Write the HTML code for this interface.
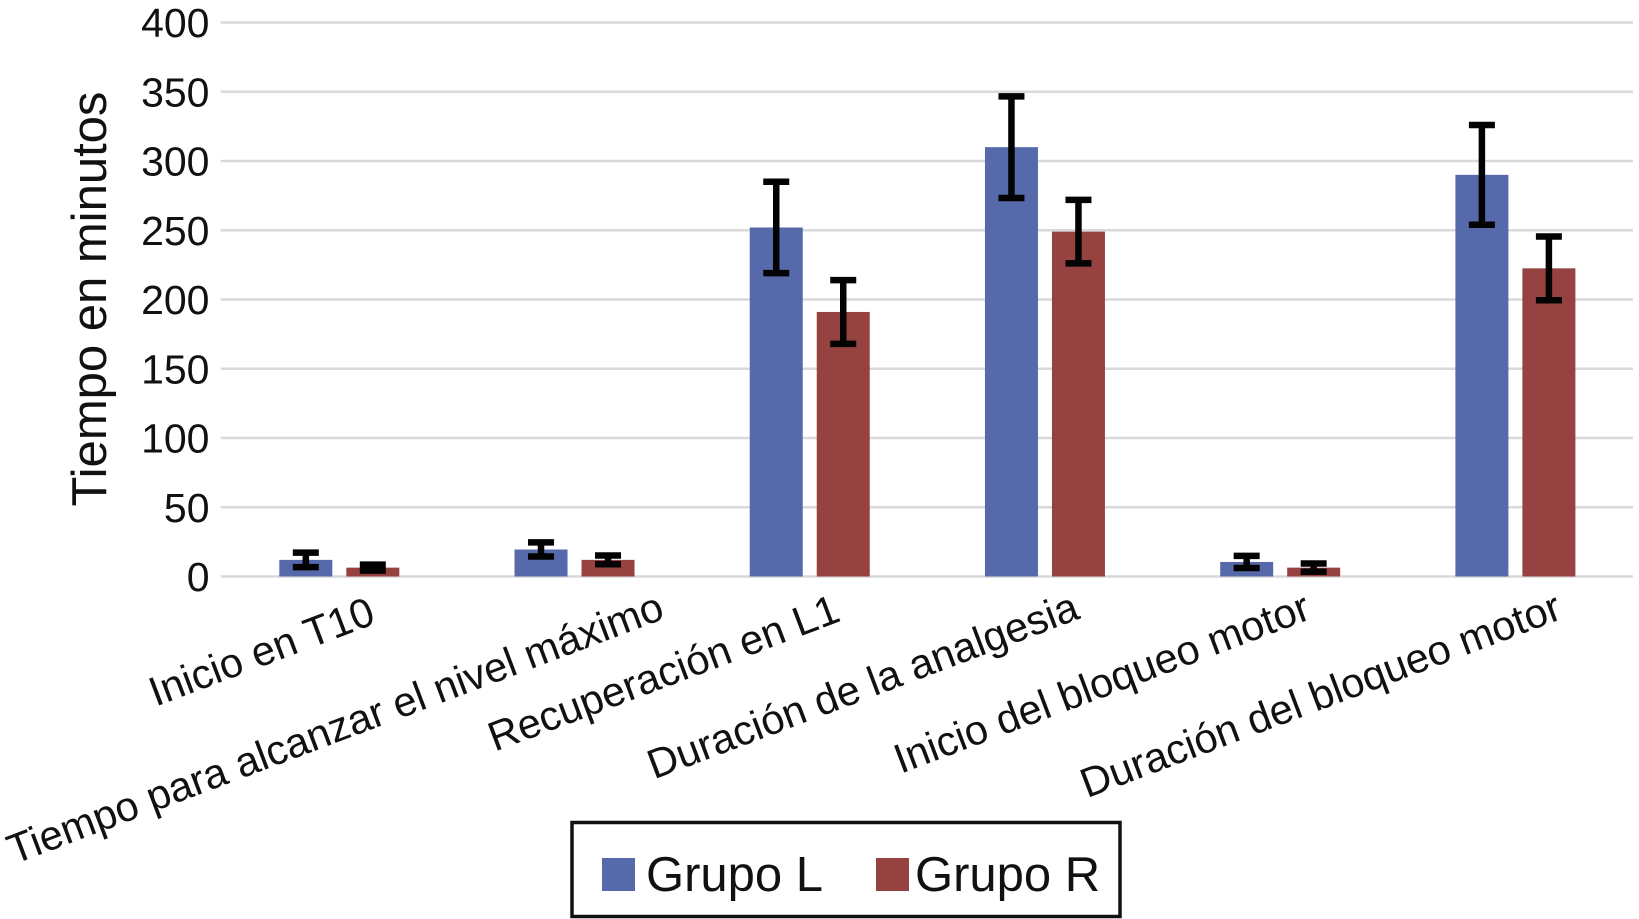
<!DOCTYPE html>
<html lang="es">
<head>
<meta charset="utf-8">
<title>Tiempo en minutos por grupo</title>
<style>
  html, body { margin: 0; padding: 0; background: #fff; }
  body { width: 1639px; height: 919px; overflow: hidden; }
  svg { display: block; font-family: "Liberation Sans", Arial, sans-serif; fill: #111; }
</style>
</head>
<body>
<svg id="chart" width="1639" height="919" viewBox="0 0 1639 919" xmlns="http://www.w3.org/2000/svg">
  <g id="grid"></g>
  <g id="yticks"></g>
  <text transform="translate(106 299) rotate(-90)" text-anchor="middle" font-size="49">Tiempo en minutos</text>
  <g id="bars"></g>
  <g id="errors"></g>
  <g id="xticks"></g>
  <g>
    <rect x="572" y="822.5" width="548" height="94" fill="#fff" stroke="#111" stroke-width="3.5"/>
    <rect x="602" y="858" width="33" height="33" fill="#566aab"/>
    <text x="646" y="891" font-size="49">Grupo L</text>
    <rect x="876" y="858" width="33" height="33" fill="#954240"/>
    <text x="915" y="891" font-size="49">Grupo R</text>
  </g>
</svg>
<script>
const categories = ["Inicio en T10", "Tiempo para alcanzar el nivel máximo", "Recuperación en L1", "Duración de la analgesia", "Inicio del bloqueo motor", "Duración del bloqueo motor"];
const grupoL = [12, 19.5, 252, 310, 10.5, 290];
const grupoR = [6.4, 12, 191, 249, 6.4, 222.5];
const errorL = [5.2, 5.1, 33, 36.7, 4.4, 36];
const errorR = [2.2, 3.2, 23, 22.9, 3, 23];
const yTickLabels = [0, 50, 100, 150, 200, 250, 300, 350, 400];

const NS = "http://www.w3.org/2000/svg";
const plot = { left: 221.7, right: 1633, zeroY: 576.5, topY: 22.5, max: 400 };
const BAR_W = 53, BAR_GAP = 14;

function yScale(v) { return plot.zeroY - (v / plot.max) * (plot.zeroY - plot.topY); }
function xCenter(i) { return plot.left + (i + 0.5) * (plot.right - plot.left) / categories.length; }
function make(tag, attrs, parent) {
  const el = document.createElementNS(NS, tag);
  for (const k in attrs) el.setAttribute(k, attrs[k]);
  parent.appendChild(el);
  return el;
}

const gridG = document.getElementById("grid");
const ytickG = document.getElementById("yticks");
yTickLabels.forEach(function (t) {
  const line = make("line", { x1: plot.left - 1, x2: plot.right, y1: yScale(t), y2: yScale(t), stroke: "#d9d9d9", "stroke-width": 2.4 }, gridG);
  
  
  const label = make("text", { x: 209.5, y: yScale(t) + 14.5, "text-anchor": "end", "font-size": 41 }, ytickG);
  
  
  label.textContent = t;
});

const barsG = document.getElementById("bars");
const errorsG = document.getElementById("errors");

function drawBar(cx, value, err, color, barName, errName) {
  const top = yScale(value);
  const bar = make("rect", { x: cx - BAR_W / 2, y: top, width: BAR_W, height: plot.zeroY - top, fill: color }, barsG);
  
  
  const hi = yScale(value + err), lo = yScale(value - err);
  const capW = 26;
  const g = make("path", {
    d: "M" + cx + " " + hi + "V" + lo +
       "M" + (cx - capW / 2) + " " + hi + "H" + (cx + capW / 2) +
       "M" + (cx - capW / 2) + " " + lo + "H" + (cx + capW / 2),
    stroke: "#030303", "stroke-width": 6.5, fill: "none"
  }, errorsG);
  
  
}

categories.forEach(function (c, i) {
  const cx = xCenter(i);
  drawBar(cx - (BAR_W + BAR_GAP) / 2, grupoL[i], errorL[i], "#566aab", "bar-grupo-l", "error-bar-grupo-l");
  drawBar(cx + (BAR_W + BAR_GAP) / 2, grupoR[i], errorR[i], "#954240", "bar-grupo-r", "error-bar-grupo-r");
});

const xtickG = document.getElementById("xticks");
categories.forEach(function (c, i) {
  const t = make("text", { "text-anchor": "end", "font-size": 41.5 }, xtickG);
  
  
  t.textContent = c;
  const w = t.getComputedTextLength();
  const shift = 38 - Math.min(w - 235, 195) * 0.04 + Math.max(0, w - 430) * 0.23;
  const lift = Math.max(0, Math.min(5, (w - 300) * 0.035));
  t.setAttribute("transform", "translate(" + (xCenter(i) + shift) + " " + (623 - lift) + ") rotate(-20.7)");
});
</script>
</body>
</html>
